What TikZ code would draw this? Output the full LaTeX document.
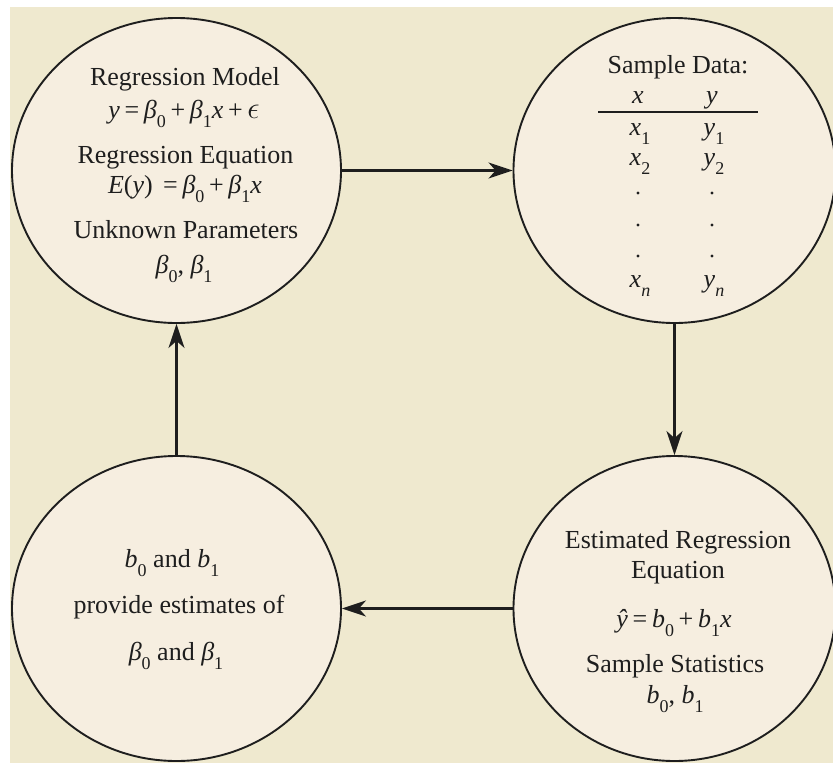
\documentclass[tikz,border=0pt]{standalone}
\usepackage{fontspec}
\setmainfont{Liberation Serif}
\usetikzlibrary{shapes.geometric,arrows.meta}
\definecolor{bgbeige}{RGB}{239,233,207}
\definecolor{circfill}{RGB}{246,238,224}
\definecolor{inkgray}{RGB}{30,30,30}
\newcommand\sbs[1]{\raisebox{-0.38em}{\fontsize{18}{18}\selectfont #1}}
\newcommand\iv[1]{\textit{#1}}
\newcommand\tsp{\hspace{0.18em}}
\newcommand\lunate{\scalebox{1.25}{$\epsilon$}}
\begin{document}
\begin{tikzpicture}[x=1pt,y=-1pt,
  circ/.style={ellipse, draw=inkgray, line width=1.9pt, fill=circfill, inner sep=0pt},
  arr/.style={draw=inkgray, line width=2.2pt, -{Stealth[length=24pt,width=16pt,inset=7pt]}},
  txt/.style={anchor=base, inner sep=0pt, text=inkgray, font=\fontsize{26}{30}\selectfont},
  dot/.style={circle, fill=inkgray, inner sep=0pt, minimum size=3.2pt}]
\useasboundingbox (0,0) rectangle (833,764);
\fill[bgbeige] (10,7) rectangle (833,763);
% circles
\node[circ, minimum width=329pt, minimum height=305pt] (tl) at (176.5,170.5) {};
\node[circ, minimum width=322pt, minimum height=305pt] (tr) at (674.5,170.5) {};
\node[circ, minimum width=329pt, minimum height=305pt] (bl) at (176.5,608.5) {};
\node[circ, minimum width=322pt, minimum height=305pt] (br) at (674.5,608.5) {};
% connectors
\draw[arr] (tl) -- (tr);
\draw[arr] (tr) -- (br);
\draw[arr] (br) -- (bl);
\draw[arr] (bl) -- (tl);
% top-left text
\node[txt] (t1) at (185,85) {Regression Model};
\node[txt] (t2) at (184,118) {\iv{y}\tsp=\tsp\iv{β}\sbs{0}\tsp+\tsp\iv{β}\sbs{1}\iv{x}\tsp+\tsp\lunate};
\node[txt] (t3) at (185.5,163) {Regression Equation};
\node[txt] (t4) at (185,193) {\iv{E}(\iv{y})\hspace{0.4em}=\tsp\iv{β}\sbs{0}\tsp+\tsp\iv{β}\sbs{1}\iv{x}};
\node[txt] (t5) at (186,238) {Unknown Parameters};
\node[txt] (t6) at (184,273) {\iv{β}\sbs{0}, \iv{β}\sbs{1}};
% top-right text
\node[txt] (s1) at (678,73) {Sample Data:};
\node[txt] (sx) at (638,103) {\iv{x}};
\node[txt] (sy) at (712,103) {\iv{y}};
\coordinate (rl) at (598,112);
\coordinate (rr) at (758,112);
\draw[inkgray, line width=2.4pt] (rl) -- (rr);
\node[txt] (x1) at (640,135) {\iv{x}\sbs{1}};
\node[txt] (y1) at (714,135) {\iv{y}\sbs{1}};
\node[txt] (x2) at (640,165) {\iv{x}\sbs{2}};
\node[txt] (y2) at (714,165) {\iv{y}\sbs{2}};
\node[dot] (dx1) at (638,193) {};
\node[dot] (dy1) at (712,193) {};
\node[dot] (dx2) at (638,225) {};
\node[dot] (dy2) at (712,225) {};
\node[dot] (dx3) at (638,256) {};
\node[dot] (dy3) at (712,256) {};
\node[txt] (xn) at (640,287) {\iv{x}\sbs{\iv{n}}};
\node[txt] (yn) at (714,287) {\iv{y}\sbs{\iv{n}}};
% bottom-right text
\node[txt] (e1) at (678,548) {Estimated Regression};
\node[txt] (e2) at (678,578) {Equation};
\node[txt] (e3) at (674,627) {\iv{ŷ}\tsp=\tsp\iv{b}\sbs{0}\tsp+\tsp\iv{b}\sbs{1}\iv{x}};
\node[txt] (e4) at (675,672) {Sample Statistics};
\node[txt] (e5) at (675,703) {\iv{b}\sbs{0}, \iv{b}\sbs{1}};
% bottom-left text
\node[txt] (p1) at (172,567) {\iv{b}\sbs{0} and \iv{b}\sbs{1}};
\node[txt] (p2) at (179,613) {provide estimates of};
\node[txt] (p3) at (176,660) {\iv{β}\sbs{0} and \iv{β}\sbs{1}};
\end{tikzpicture}
\end{document}
